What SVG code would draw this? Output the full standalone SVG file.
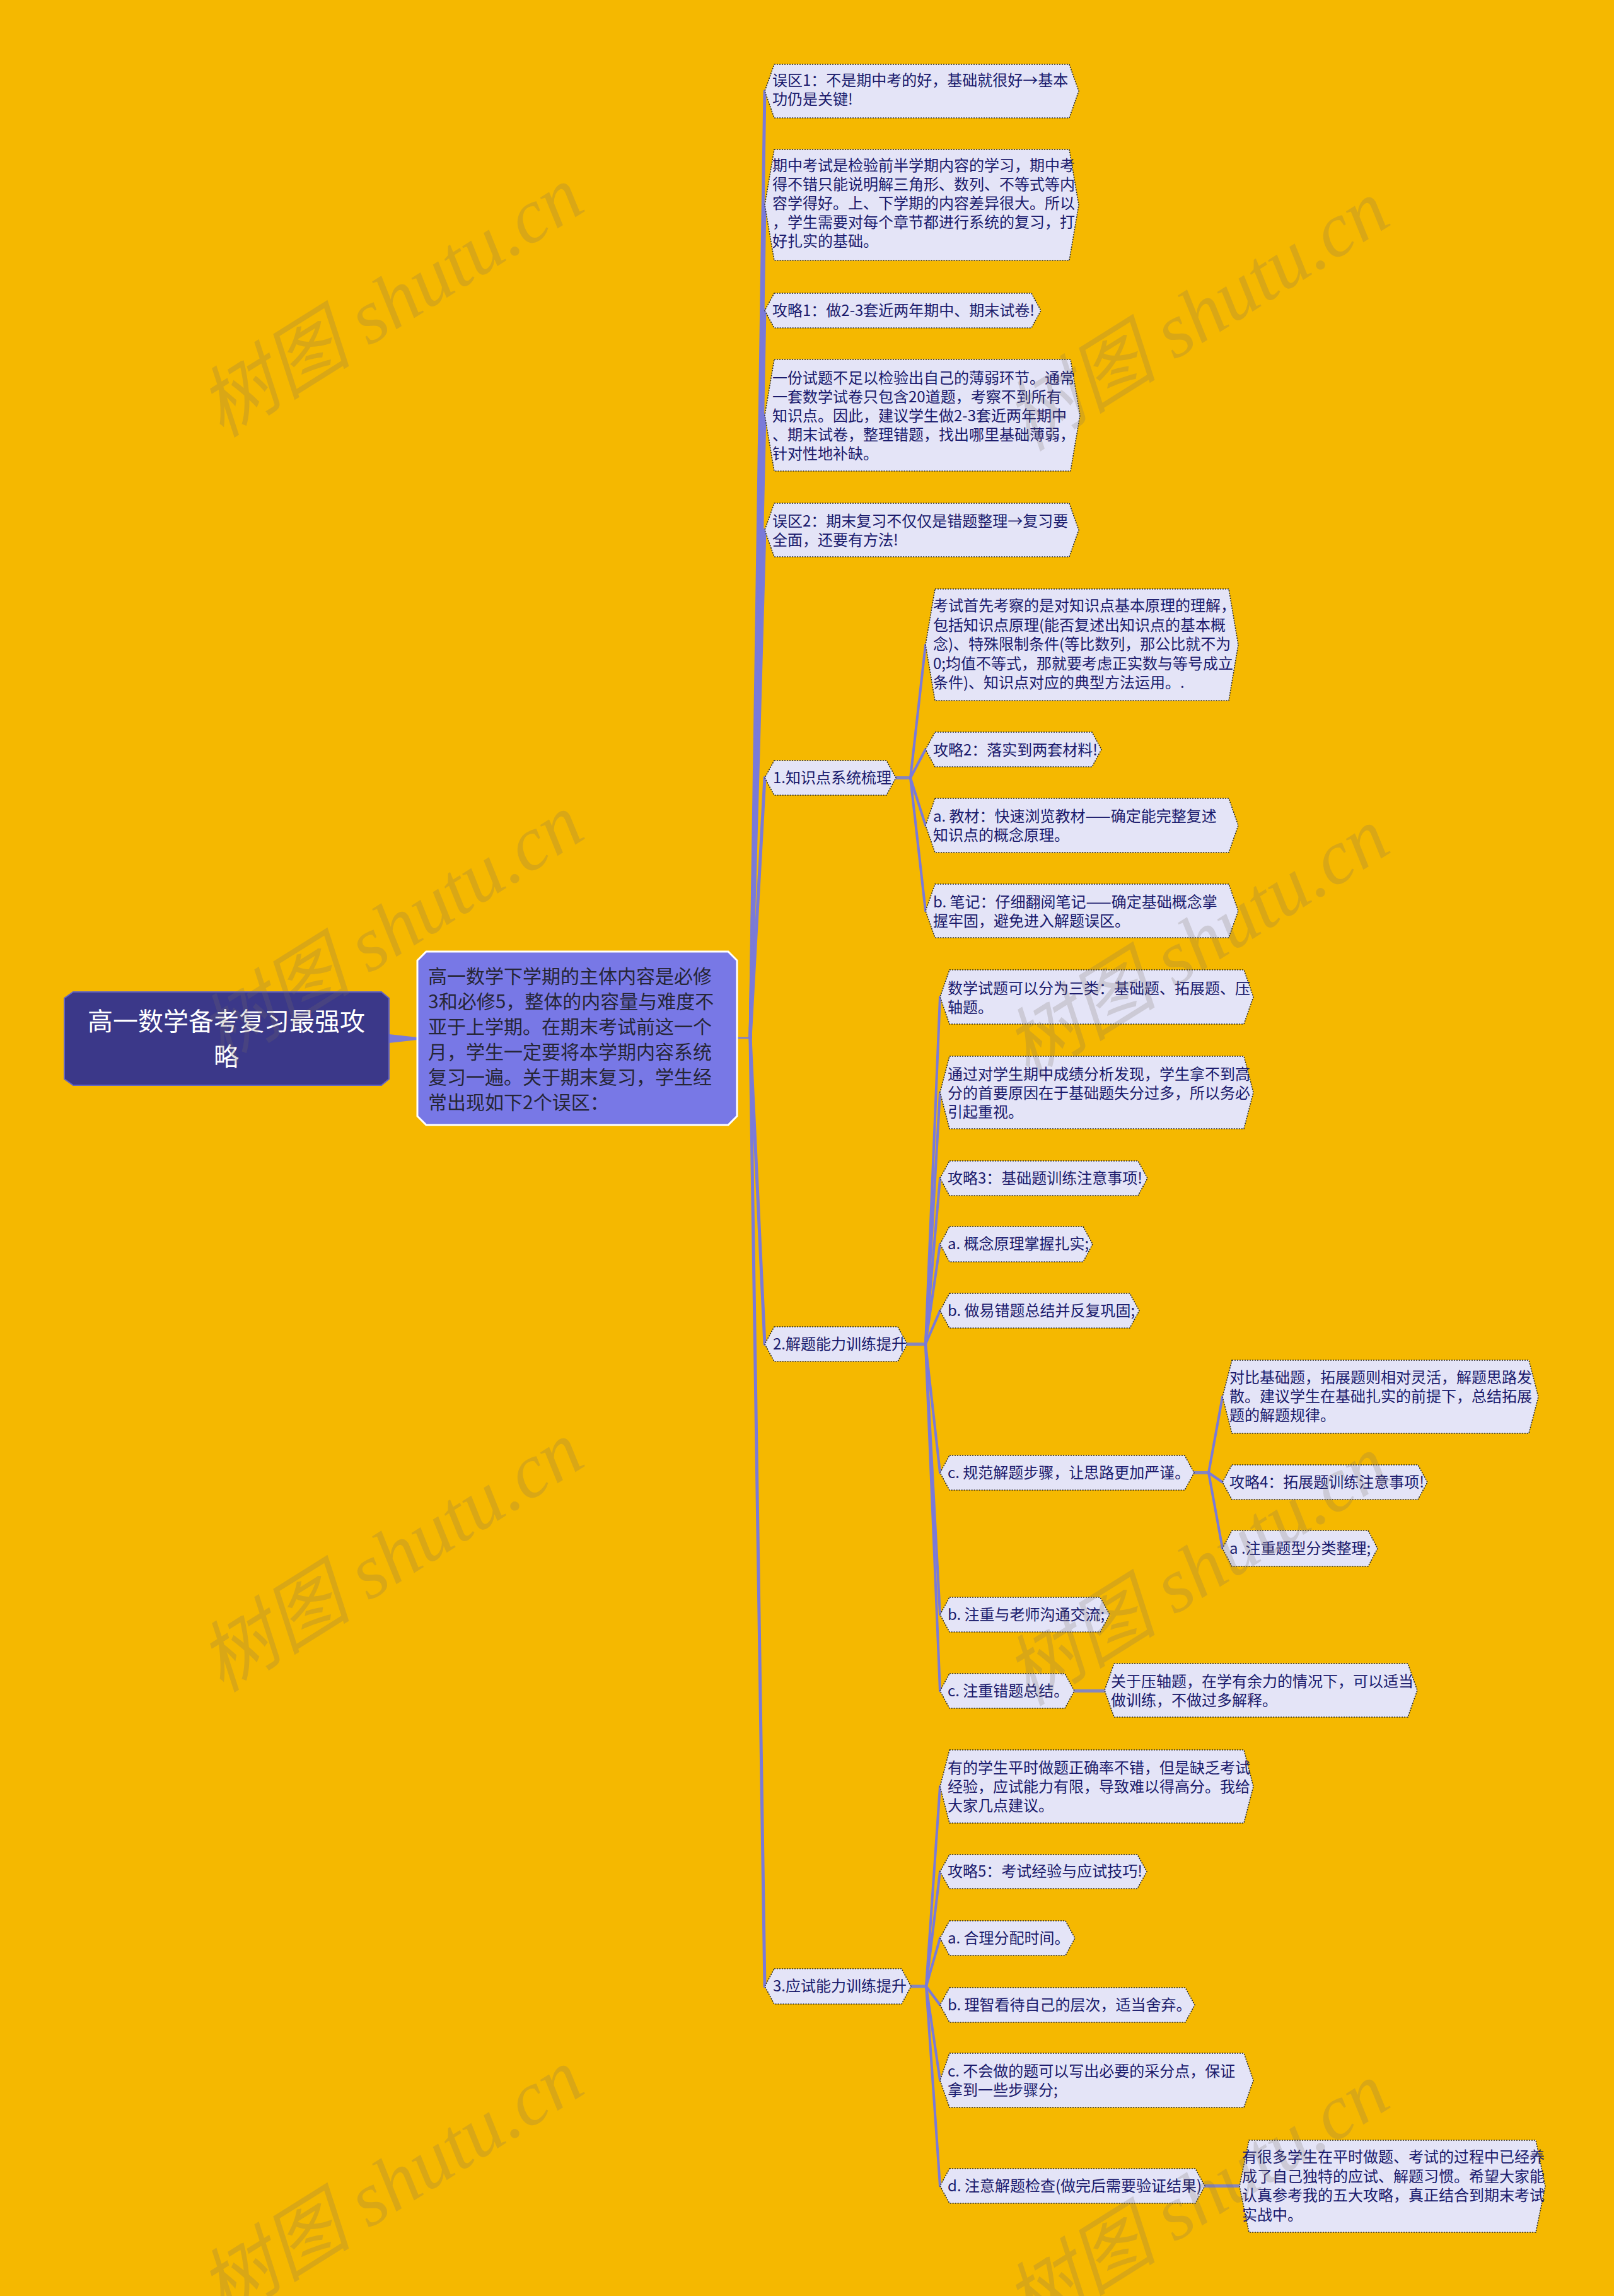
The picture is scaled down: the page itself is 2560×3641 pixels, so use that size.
<svg xmlns="http://www.w3.org/2000/svg" width="2560" height="3641" viewBox="0 0 2560 3641">
<style>
.bg{fill:#f5b800}
.n polygon{fill:#e4e4f7;stroke:#2a2a2a;stroke-width:1.6;stroke-dasharray:2 2}
.t{font-family:"Noto Sans CJK SC","Liberation Sans",sans-serif;font-size:24px;fill:#1a1a6c}
.c{fill:none;stroke:#7a7ad8;stroke-linecap:round}
.c1{stroke-width:5}
.c2{stroke-width:4}
.stub{stroke:#8585c0;stroke-width:5}
.wm{font-family:"Liberation Serif","Noto Sans CJK SC",serif;font-style:italic;font-size:122px;fill:#786e64;fill-opacity:0.22}
</style>
<rect class="bg" x="0" y="0" width="2560" height="3641"/>

<g id="connectors">
<polygon points="617,1640 662,1645 662,1649 617,1654" fill="#7a7ad8"/>
<path class="c" stroke-width="2.5" d="M1169,1646 H1190"/>
<g class="c c1">
<path d="M1190,1646 L1213,144.5"/>
<path d="M1190,1646 L1213,325"/>
<path d="M1190,1646 L1213,492.5"/>
<path d="M1190,1646 L1213,658.5"/>
<path d="M1190,1646 L1213,840.5"/>
<path d="M1190,1646 L1213,1233.5"/>
<path d="M1190,1646 L1213,2131.5"/>
<path d="M1190,1646 L1213,3150"/>
</g>
<g class="c c2">
<path class="stub" d="M1421,1233.5 H1444"/>
<path d="M1444,1233.5 L1468,1022.5"/>
<path d="M1444,1233.5 L1468,1188.5"/>
<path d="M1444,1233.5 L1468,1309"/>
<path d="M1444,1233.5 L1468,1444.5"/>
<path class="stub" d="M1439,2131.5 H1468"/>
<path d="M1468,2131.5 L1491,1581"/>
<path d="M1468,2131.5 L1491,1732.5"/>
<path d="M1468,2131.5 L1491,1868.5"/>
<path d="M1468,2131.5 L1491,1973"/>
<path d="M1468,2131.5 L1491,2078.5"/>
<path d="M1468,2131.5 L1491,2335.5"/>
<path d="M1468,2131.5 L1491,2560.5"/>
<path d="M1468,2131.5 L1491,2681.5"/>
<path class="stub" d="M1894,2335.5 H1917"/>
<path d="M1917,2335.5 L1939,2215"/>
<path d="M1917,2335.5 L1939,2350.5"/>
<path d="M1917,2335.5 L1939,2455.5"/>
<path class="stub" d="M1704,2681.5 H1752"/>
<path class="stub" d="M1445,3150 H1469"/>
<path d="M1469,3150 L1491,2833"/>
<path d="M1469,3150 L1491,2968"/>
<path d="M1469,3150 L1491,3073.5"/>
<path d="M1469,3150 L1491,3179.5"/>
<path d="M1469,3150 L1491,3299"/>
<path d="M1469,3150 L1491,3466.5"/>
<path class="stub" d="M1911,3466.5 H1966"/>
</g>
</g>

<g id="root">
<polygon points="116,1573 605,1573 617,1583 617,1711 605,1721 116,1721 102,1711 102,1583" fill="#3b3889" stroke="#6464c0" stroke-width="2"/>
<text font-family="Noto Sans CJK SC,Liberation Sans,sans-serif" font-size="40" fill="#ffffff" text-anchor="middle"><tspan x="359" y="1634">高一数学备考复习最强攻</tspan><tspan x="359" y="1690">略</tspan></text>
</g>

<g id="intro">
<polygon points="676,1509 1155,1509 1169,1523 1169,1770 1155,1784 676,1784 662,1770 662,1523" fill="#7878e6" stroke="#ffffff" stroke-width="3"/>
<text font-family="Noto Sans CJK SC,Liberation Sans,sans-serif" font-size="30" fill="#262636"><tspan x="679" y="1559">高一数学下学期的主体内容是必修</tspan><tspan x="679" y="1599">3和必修5，整体的内容量与难度不</tspan><tspan x="679" y="1639">亚于上学期。在期末考试前这一个</tspan><tspan x="679" y="1679">月，学生一定要将本学期内容系统</tspan><tspan x="679" y="1719">复习一遍。关于期末复习，学生经</tspan><tspan x="679" y="1759">常出现如下2个误区：</tspan></text>
</g>

<g id="n1" class="n">
<polygon points="1228,102 1696,102 1711,144.5 1696,187 1228,187 1213,144.5"/>
<text class="t"><tspan x="1225" y="136">误区1：不是期中考的好，基础就很好→基本</tspan><tspan x="1225" y="166">功仍是关键!</tspan></text>
</g>
<g id="n2" class="n">
<polygon points="1228,237 1696,237 1711,325 1696,413 1228,413 1213,325"/>
<text class="t"><tspan x="1225" y="271">期中考试是检验前半学期内容的学习，期中考</tspan><tspan x="1225" y="301">得不错只能说明解三角形、数列、不等式等内</tspan><tspan x="1225" y="331">容学得好。上、下学期的内容差异很大。所以</tspan><tspan x="1225" y="361">，学生需要对每个章节都进行系统的复习，打</tspan><tspan x="1225" y="391">好扎实的基础。</tspan></text>
</g>
<g id="n3" class="n">
<polygon points="1228,465 1636,465 1651,492.5 1636,520 1228,520 1213,492.5"/>
<text class="t" x="1225" y="501">攻略1：做2-3套近两年期中、期末试卷!</text>
</g>
<g id="n4" class="n">
<polygon points="1228,570 1698,570 1713,658.5 1698,747 1228,747 1213,658.5"/>
<text class="t"><tspan x="1225" y="608">一份试题不足以检验出自己的薄弱环节。通常</tspan><tspan x="1225" y="638">一套数学试卷只包含20道题，考察不到所有</tspan><tspan x="1225" y="668">知识点。因此，建议学生做2-3套近两年期中</tspan><tspan x="1225" y="698">、期末试卷，整理错题，找出哪里基础薄弱，</tspan><tspan x="1225" y="728">针对性地补缺。</tspan></text>
</g>
<g id="n5" class="n">
<polygon points="1228,798 1696,798 1711,840.5 1696,883 1228,883 1213,840.5"/>
<text class="t"><tspan x="1225" y="835">误区2：期末复习不仅仅是错题整理→复习要</tspan><tspan x="1225" y="865">全面，还要有方法!</tspan></text>
</g>

<g id="n6" class="n">
<polygon points="1228,1206 1406,1206 1421,1233.5 1406,1261 1228,1261 1213,1233.5"/>
<text class="t" x="1226" y="1242">1.知识点系统梳理</text>
</g>
<g id="n6a" class="n">
<polygon points="1483,934 1949,934 1964,1022.5 1949,1111 1483,1111 1468,1022.5"/>
<text class="t"><tspan x="1480" y="969">考试首先考察的是对知识点基本原理的理解，</tspan><tspan x="1480" y="1000">包括知识点原理(能否复述出知识点的基本概</tspan><tspan x="1480" y="1030">念)、特殊限制条件(等比数列，那公比就不为</tspan><tspan x="1480" y="1061">0;均值不等式，那就要考虑正实数与等号成立</tspan><tspan x="1480" y="1091">条件)、知识点对应的典型方法运用。.</tspan></text>
</g>
<g id="n6b" class="n">
<polygon points="1483,1161 1732,1161 1747,1188.5 1732,1216 1483,1216 1468,1188.5"/>
<text class="t" x="1480" y="1198">攻略2：落实到两套材料!</text>
</g>
<g id="n6c" class="n">
<polygon points="1483,1266 1949,1266 1964,1309 1949,1352 1483,1352 1468,1309"/>
<text class="t"><tspan x="1480" y="1303">a. 教材：快速浏览教材——确定能完整复述</tspan><tspan x="1480" y="1333">知识点的概念原理。</tspan></text>
</g>
<g id="n6d" class="n">
<polygon points="1483,1402 1949,1402 1964,1444.5 1949,1487 1483,1487 1468,1444.5"/>
<text class="t"><tspan x="1480" y="1439">b. 笔记：仔细翻阅笔记——确定基础概念掌</tspan><tspan x="1480" y="1469">握牢固，避免进入解题误区。</tspan></text>
</g>

<g id="n7" class="n">
<polygon points="1228,2104 1424,2104 1439,2131.5 1424,2159 1228,2159 1213,2131.5"/>
<text class="t" x="1226" y="2140">2.解题能力训练提升</text>
</g>
<g id="n7a" class="n">
<polygon points="1506,1538 1973,1538 1988,1581 1973,1624 1506,1624 1491,1581"/>
<text class="t"><tspan x="1503" y="1576">数学试题可以分为三类：基础题、拓展题、压</tspan><tspan x="1503" y="1606">轴题。</tspan></text>
</g>
<g id="n7b" class="n">
<polygon points="1506,1675 1973,1675 1988,1732.5 1973,1790 1506,1790 1491,1732.5"/>
<text class="t"><tspan x="1503" y="1712">通过对学生期中成绩分析发现，学生拿不到高</tspan><tspan x="1503" y="1742">分的首要原因在于基础题失分过多，所以务必</tspan><tspan x="1503" y="1772">引起重视。</tspan></text>
</g>
<g id="n7c" class="n">
<polygon points="1506,1841 1805,1841 1820,1868.5 1805,1896 1506,1896 1491,1868.5"/>
<text class="t" x="1503" y="1877">攻略3：基础题训练注意事项!</text>
</g>
<g id="n7d" class="n">
<polygon points="1506,1945 1718,1945 1733,1973 1718,2001 1506,2001 1491,1973"/>
<text class="t" x="1503" y="1981">a. 概念原理掌握扎实;</text>
</g>
<g id="n7e" class="n">
<polygon points="1506,2051 1792,2051 1807,2078.5 1792,2106 1506,2106 1491,2078.5"/>
<text class="t" x="1503" y="2087">b. 做易错题总结并反复巩固;</text>
</g>
<g id="n7f" class="n">
<polygon points="1506,2308 1879,2308 1894,2335.5 1879,2363 1506,2363 1491,2335.5"/>
<text class="t" x="1503" y="2344">c. 规范解题步骤，让思路更加严谨。</text>
</g>
<g id="n7f1" class="n">
<polygon points="1954,2157 2425,2157 2440,2215 2425,2273 1954,2273 1939,2215"/>
<text class="t"><tspan x="1950" y="2193">对比基础题，拓展题则相对灵活，解题思路发</tspan><tspan x="1950" y="2223">散。建议学生在基础扎实的前提下，总结拓展</tspan><tspan x="1950" y="2253">题的解题规律。</tspan></text>
</g>
<g id="n7f2" class="n">
<polygon points="1954,2323 2249,2323 2264,2350.5 2249,2378 1954,2378 1939,2350.5"/>
<text class="t" x="1950" y="2359">攻略4：拓展题训练注意事项!</text>
</g>
<g id="n7f3" class="n">
<polygon points="1954,2427 2170,2427 2185,2455.5 2170,2484 1954,2484 1939,2455.5"/>
<text class="t" x="1950" y="2464">a .注重题型分类整理;</text>
</g>
<g id="n7g" class="n">
<polygon points="1506,2533 1745,2533 1760,2560.5 1745,2588 1506,2588 1491,2560.5"/>
<text class="t" x="1503" y="2569">b. 注重与老师沟通交流;</text>
</g>
<g id="n7h" class="n">
<polygon points="1506,2654 1689,2654 1704,2681.5 1689,2709 1506,2709 1491,2681.5"/>
<text class="t" x="1503" y="2690">c. 注重错题总结。</text>
</g>
<g id="n7h1" class="n">
<polygon points="1767,2638 2233,2638 2248,2680.5 2233,2723 1767,2723 1752,2680.5"/>
<text class="t"><tspan x="1762" y="2675">关于压轴题，在学有余力的情况下，可以适当</tspan><tspan x="1762" y="2705">做训练，不做过多解释。</tspan></text>
</g>

<g id="n8" class="n">
<polygon points="1228,3122 1430,3122 1445,3150 1430,3178 1228,3178 1213,3150"/>
<text class="t" x="1226" y="3158">3.应试能力训练提升</text>
</g>
<g id="n8a" class="n">
<polygon points="1506,2775 1973,2775 1988,2833 1973,2891 1506,2891 1491,2833"/>
<text class="t"><tspan x="1503" y="2812">有的学生平时做题正确率不错，但是缺乏考试</tspan><tspan x="1503" y="2842">经验，应试能力有限，导致难以得高分。我给</tspan><tspan x="1503" y="2872">大家几点建议。</tspan></text>
</g>
<g id="n8b" class="n">
<polygon points="1506,2941 1804,2941 1819,2968 1804,2995 1506,2995 1491,2968"/>
<text class="t" x="1503" y="2976">攻略5：考试经验与应试技巧!</text>
</g>
<g id="n8c" class="n">
<polygon points="1506,3046 1690,3046 1705,3073.5 1690,3101 1506,3101 1491,3073.5"/>
<text class="t" x="1503" y="3082">a. 合理分配时间。</text>
</g>
<g id="n8d" class="n">
<polygon points="1506,3152 1880,3152 1895,3179.5 1880,3207 1506,3207 1491,3179.5"/>
<text class="t" x="1503" y="3188">b. 理智看待自己的层次，适当舍弃。</text>
</g>
<g id="n8e" class="n">
<polygon points="1506,3256 1973,3256 1988,3299 1973,3342 1506,3342 1491,3299"/>
<text class="t"><tspan x="1503" y="3293">c. 不会做的题可以写出必要的采分点，保证</tspan><tspan x="1503" y="3323">拿到一些步骤分;</tspan></text>
</g>
<g id="n8f" class="n">
<polygon points="1506,3439 1896,3439 1911,3466.5 1896,3494 1506,3494 1491,3466.5"/>
<text class="t" x="1503" y="3475">d. 注意解题检查(做完后需要验证结果)</text>
</g>
<g id="n8f1" class="n">
<polygon points="1981,3394 2436,3394 2451,3467 2436,3540 1981,3540 1966,3467"/>
<text class="t"><tspan x="1970" y="3429">有很多学生在平时做题、考试的过程中已经养</tspan><tspan x="1970" y="3460">成了自己独特的应试、解题习惯。希望大家能</tspan><tspan x="1970" y="3490">认真参考我的五大攻略，真正结合到期末考试</tspan><tspan x="1970" y="3521">实战中。</tspan></text>
</g>

<g id="watermarks">
<text class="wm" transform="translate(352,695) rotate(-32)">树图 shutu.cn</text>
<text class="wm" transform="translate(1630,717) rotate(-32)">树图 shutu.cn</text>
<text class="wm" transform="translate(352,1690) rotate(-32)">树图 shutu.cn</text>
<text class="wm" transform="translate(1630,1712) rotate(-32)">树图 shutu.cn</text>
<text class="wm" transform="translate(352,2685) rotate(-32)">树图 shutu.cn</text>
<text class="wm" transform="translate(1630,2707) rotate(-32)">树图 shutu.cn</text>
<text class="wm" transform="translate(352,3680) rotate(-32)">树图 shutu.cn</text>
<text class="wm" transform="translate(1630,3702) rotate(-32)">树图 shutu.cn</text>
</g>
</svg>
